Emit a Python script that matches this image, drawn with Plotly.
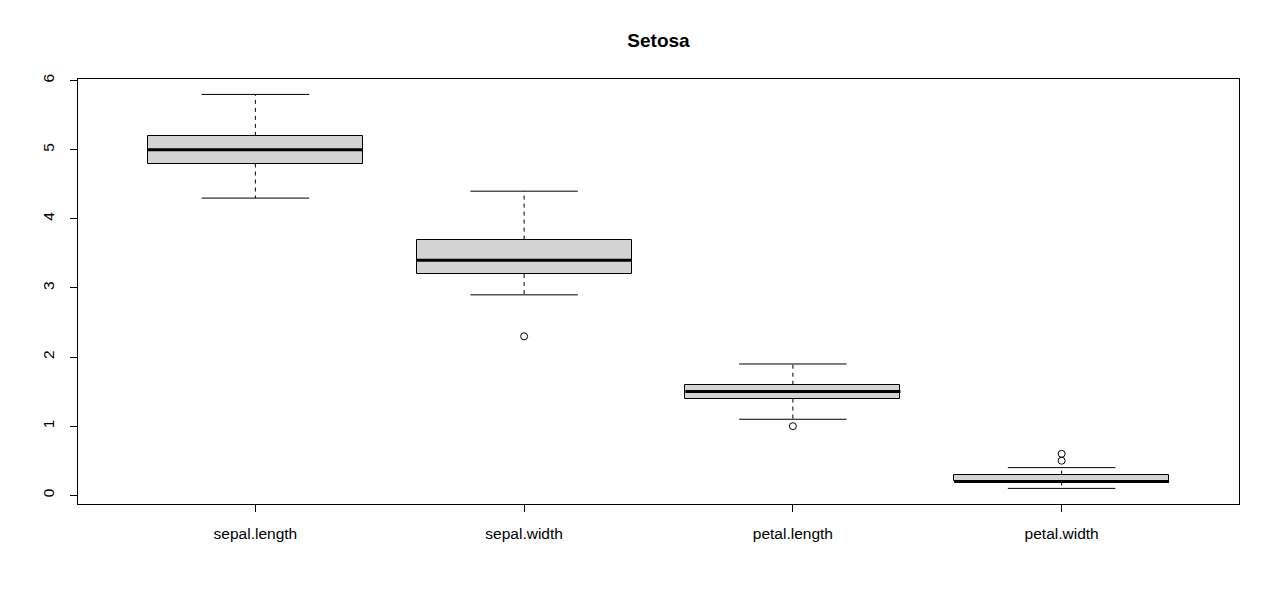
import plotly.graph_objects as go

# ---- data (Setosa) ----
categories = ["sepal.length", "sepal.width", "petal.length", "petal.width"]
lower_whisker = [4.3, 2.9, 1.1, 0.1]
q1 = [4.8, 3.2, 1.4, 0.2]
median = [5.0, 3.4, 1.5, 0.2]
q3 = [5.2, 3.7, 1.6, 0.3]
upper_whisker = [5.8, 4.4, 1.9, 0.4]
outliers = [[], [2.3], [1.0], [0.5, 0.6]]
y_ticks = [0, 1, 2, 3, 4, 5, 6]

# ---- style ----
box_w = 0.8
cap_w = 0.4
font_family = "Liberation Sans, Arial, sans-serif"

pos = list(range(1, len(categories) + 1))

fig = go.Figure()

# boxes
fig.add_trace(go.Bar(
    x=pos, y=[b - a for a, b in zip(q1, q3)], base=q1, width=box_w,
    marker=dict(color="#D3D3D3", line=dict(color="black", width=1)),
    hoverinfo="skip", showlegend=False))

# whiskers (dashed)
wx, wy = [], []
for p, lo, a, b, hi in zip(pos, lower_whisker, q1, q3, upper_whisker):
    wx += [p, p, None, p, p, None]
    wy += [b, hi, None, a, lo, None]
fig.add_trace(go.Scatter(x=wx, y=wy, mode="lines",
                         line=dict(color="black", width=1, dash="4px,4px"),
                         hoverinfo="skip", showlegend=False))

# caps
cx, cy = [], []
for p, lo, hi in zip(pos, lower_whisker, upper_whisker):
    cx += [p - cap_w / 2, p + cap_w / 2, None, p - cap_w / 2, p + cap_w / 2, None]
    cy += [hi, hi, None, lo, lo, None]
fig.add_trace(go.Scatter(x=cx, y=cy, mode="lines",
                         line=dict(color="black", width=1),
                         hoverinfo="skip", showlegend=False))

# medians
mx, my = [], []
for p, m in zip(pos, median):
    mx += [p - box_w / 2, p + box_w / 2, None]
    my += [m, m, None]
fig.add_trace(go.Scatter(x=mx, y=my, mode="lines",
                         line=dict(color="black", width=3),
                         hoverinfo="skip", showlegend=False))

# outliers
ox, oy = [], []
for p, outs in zip(pos, outliers):
    for v in outs:
        ox.append(p)
        oy.append(v)
fig.add_trace(go.Scatter(x=ox, y=oy, mode="markers",
                         marker=dict(symbol="circle-open", size=7,
                                     color="black", line=dict(width=1)),
                         hoverinfo="skip", showlegend=False))

W, H = 1264, 586  # page body has an 8px margin
fig.update_layout(
    width=W, height=H,
    paper_bgcolor="white", plot_bgcolor="white",
    margin=dict(l=70, r=33, t=71, b=90),
    font=dict(family=font_family, size=15.5, color="black"),
    title=dict(text="<b>Setosa</b>", x=(70 + 1231) / 2 / W, xanchor="center",
               y=1 - 32 / H, yanchor="middle", yref="container",
               font=dict(size=19, family=font_family, color="black")),
    bargap=0,
    xaxis=dict(range=[0.34, 4.66], tickvals=pos, ticktext=categories,
               ticks="outside", ticklen=7, tickwidth=1, tickcolor="black",
               showline=True, linecolor="black", linewidth=1, mirror=True,
               showgrid=False, zeroline=False, ticklabelstandoff=8),
    yaxis=dict(range=[-0.126, 6.023], tickvals=y_ticks,
               ticks="outside", ticklen=7, tickwidth=1, tickcolor="black",
               tickangle=-90,
               showline=True, linecolor="black", linewidth=1, mirror=True,
               showgrid=False, zeroline=False, ticklabelstandoff=10),
)

fig.write_html("out.html")
